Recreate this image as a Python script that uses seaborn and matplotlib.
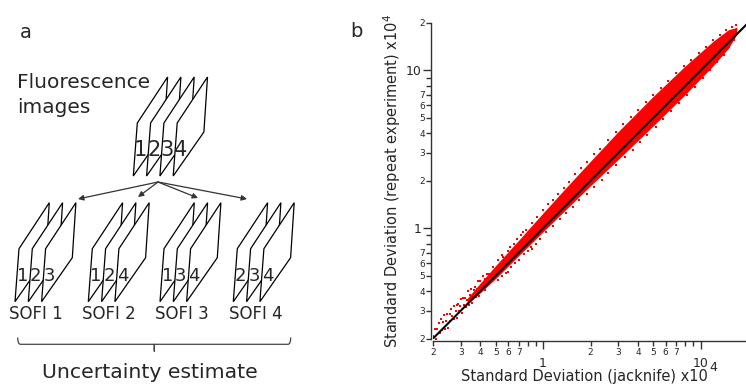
import matplotlib
matplotlib.use('Agg')
import matplotlib.pyplot as plt
import seaborn as sns
from matplotlib.patches import Polygon, PathPatch
from matplotlib.path import Path
from matplotlib.ticker import FixedLocator, FixedFormatter

# ---- panel b data (units of 10^4) ----
# dense core of the cloud
band_x = [0.33, 0.4, 0.5, 0.7, 1.0, 1.5, 2.0, 3.0, 5.0, 8.0, 12.0, 15.0, 17.0]
band_hi = [0.36, 0.45, 0.58, 0.84, 1.25, 1.95, 2.66, 4.1, 6.85, 10.7, 15.3, 18.1, 18.8]
band_lo = [0.33, 0.39, 0.48, 0.67, 0.95, 1.41, 1.86, 2.73, 4.45, 7.04, 10.7, 13.8, 17.0]

# sparse points at the low end
low_x = [0.200, 0.205, 0.21, 0.212, 0.218, 0.22, 0.225, 0.228, 0.232, 0.236,
         0.24, 0.243, 0.247, 0.25, 0.255, 0.258, 0.262, 0.265, 0.27, 0.273,
         0.278, 0.282, 0.285, 0.29, 0.294, 0.298, 0.302, 0.306, 0.31, 0.315,
         0.32, 0.325, 0.33, 0.335, 0.34, 0.345, 0.35, 0.356, 0.362, 0.368,
         0.375, 0.38, 0.386, 0.392, 0.4, 0.405, 0.41, 0.418, 0.425, 0.43,
         0.44, 0.448, 0.455]
low_y = [0.206, 0.230, 0.200, 0.229, 0.251, 0.216, 0.266, 0.228, 0.255, 0.283,
         0.230, 0.258, 0.287, 0.233, 0.286, 0.258, 0.307, 0.276, 0.321, 0.265,
         0.297, 0.327, 0.268, 0.331, 0.300, 0.322, 0.356, 0.291, 0.363, 0.324,
         0.362, 0.315, 0.350, 0.399, 0.326, 0.380, 0.413, 0.335, 0.405, 0.427,
         0.368, 0.414, 0.463, 0.372, 0.460, 0.405, 0.439, 0.497, 0.408, 0.477,
         0.515, 0.435, 0.514]

# ragged points along the upper and lower edge of the cloud
edge_x = [0.48, 0.52, 0.55, 0.56, 0.6, 0.62, 0.65, 0.68, 0.72, 0.75, 0.78, 0.85,
          0.92, 1.0, 1.08, 1.15, 1.25, 1.35, 1.45, 1.6, 1.75, 1.9, 2.1, 2.3,
          2.6, 2.9, 3.2, 3.6, 4.0, 4.5, 5.0, 5.6, 6.2, 7.0, 7.8, 8.7, 9.7, 10.8,
          12.0, 13.2, 14.5, 15.8, 16.8,
          0.52, 0.55, 0.58, 0.6, 0.63, 0.66, 0.7, 0.76, 0.8, 0.84, 0.85, 0.9,
          0.95, 1.05, 1.15, 1.28, 1.4, 1.55, 1.7, 1.9, 2.1, 2.35, 2.6, 2.9, 3.3,
          3.7, 4.1, 4.6, 5.2, 5.8, 6.5, 7.3, 8.2, 9.2, 10.3, 11.5, 12.8, 14.0,
          15.2, 16.3]
edge_y = [0.57, 0.63, 0.68, 0.66, 0.72, 0.76, 0.8, 0.86, 0.9, 0.95, 0.98, 1.08,
          1.17, 1.3, 1.42, 1.5, 1.66, 1.8, 1.95, 2.2, 2.4, 2.62, 2.95, 3.2,
          3.65, 4.1, 4.55, 5.1, 5.6, 6.3, 7.0, 7.8, 8.6, 9.6, 10.6, 11.7, 12.9, 14.1,
          15.5, 16.8, 18.0, 19.0, 19.3,
          0.47, 0.50, 0.52, 0.53, 0.57, 0.60, 0.63, 0.69, 0.72, 0.76, 0.74, 0.80,
          0.86, 0.94, 1.03, 1.14, 1.25, 1.37, 1.5, 1.66, 1.83, 2.03, 2.25, 2.5, 2.82,
          3.15, 3.5, 3.9, 4.4, 4.9, 5.5, 6.2, 7.0, 7.9, 8.9, 10.0, 11.3, 12.6,
          14.0, 15.5]

line_xy = [0.2, 20]

y_minor = [0.2, 0.3, 0.4, 0.5, 0.6, 0.7, 0.8, 0.9, 2, 3, 4, 5, 6, 7, 8, 9, 20]
y_minor_lab = ['2', '3', '4', '5', '6', '7', '', '', '2', '3', '4', '5', '6', '7', '', '', '2']
x_minor = [0.2, 0.3, 0.4, 0.5, 0.6, 0.7, 0.8, 0.9, 2, 3, 4, 5, 6, 7, 8, 9]
x_minor_lab = ['2', '3', '4', '5', '6', '7', '', '', '2', '3', '4', '5', '6', '7', '', '']
majors = [1, 10]
major_lab = ['1', '10']

# ---- panel a diagram ----
stacks = [(133.3, 176, ['1', '2', '3', '4'], 15),
          (15, 301.7, ['1', '2', '3'], 13),
          (88.3, 301.7, ['1', '2', '4'], 13),
          (160, 301.7, ['1', '3', '4'], 13),
          (233.3, 301.7, ['2', '3', '4'], 13)]
sofi_labels = ['SOFI 1', 'SOFI 2', 'SOFI 3', 'SOFI 4']
sofi_x = [35.8, 109, 182, 255.5]
arrow_ends = [(78, 199), (138, 197), (198, 198), (247, 199)]

sns.set_style('ticks')
plt.rcParams['font.family'] = ['DejaVu Sans']

fig = plt.figure(figsize=(7.46, 3.85), dpi=100)

ax0 = fig.add_axes([0, 0, 1, 1])
ax0.set_xlim(0, 746)
ax0.set_ylim(385, 0)
ax0.axis('off')

sheet = [(0, 0), (4, -53), (34.3, -99), (30.7, -44)]
for bx, by, labs, fs in stacks:
    for i in range(len(labs)):
        ox = bx + 13.3 * i
        pts = [(ox + dx, by + dy) for dx, dy in sheet]
        ax0.add_patch(Polygon(pts, closed=True, facecolor='white',
                              edgecolor='black', lw=0.9))
    for i, lab in enumerate(labs):
        ax0.text(bx + 7.5 + 13.3 * i, by - 26, lab, fontsize=fs,
                 ha='center', va='center')

for lab, sx in zip(sofi_labels, sofi_x):
    ax0.text(sx, 319.3, lab, fontsize=12, ha='center', va='baseline')

for ex, ey in arrow_ends:
    ax0.annotate('', xy=(ex, ey), xytext=(158, 182),
                 arrowprops=dict(arrowstyle='-|>', color='#333333', lw=0.9,
                                 mutation_scale=8, shrinkA=0, shrinkB=0))

brace = Path([(17.7, 337.5), (17.7, 344.3), (20.5, 344.3), (152, 344.3),
              (154.3, 344.3), (154.3, 351.5), (154.3, 344.3), (156.5, 344.3),
              (288, 344.3), (290.7, 344.3), (290.7, 337.5)],
             [Path.MOVETO, Path.CURVE3, Path.CURVE3, Path.LINETO,
              Path.LINETO, Path.LINETO, Path.LINETO, Path.LINETO,
              Path.LINETO, Path.CURVE3, Path.CURVE3])
ax0.add_patch(PathPatch(brace, facecolor='none', edgecolor='#444444', lw=0.9))

ax0.text(20, 38.3, 'a', fontsize=14, va='baseline')
ax0.text(350, 37.3, 'b', fontsize=14, va='baseline')
ax0.text(17, 88.3, 'Fluorescence', fontsize=14.5, va='baseline')
ax0.text(17, 113, 'images', fontsize=14.5, va='baseline')
ax0.text(150.3, 378.5, 'Uncertainty estimate', fontsize=14.7, ha='center', va='baseline')

# x axis title of panel b, with its exponent set as a separate text
ax0.text(584.5, 381.3, 'Standard Deviation (jacknife) x10', fontsize=10.5,
         ha='center', va='baseline')
ax0.text(709, 371, '4', fontsize=9, ha='left', va='baseline')

# ---- panel b scatter ----
ax = fig.add_axes([433 / 746, 46.5 / 385, 315 / 746, 315.5 / 385])
ax.set_xscale('log')
ax.set_yscale('log')
ax.fill_between(band_x, band_lo, band_hi, color='red', lw=0)
sns.scatterplot(x=low_x + edge_x, y=low_y + edge_y, ax=ax, marker='s', s=3,
                color='red', linewidth=0)
sns.lineplot(x=line_xy, y=line_xy, ax=ax, color='black', lw=1.5)
ax.set_xlim(0.2, 20)
ax.set_ylim(0.2, 20)

for s in ['top', 'right']:
    ax.spines[s].set_visible(False)
for s in ['left', 'bottom']:
    ax.spines[s].set_color('#333333')
    ax.spines[s].set_linewidth(1.0)
    ax.spines[s].set_position(('outward', 1.5))

ax.xaxis.set_major_locator(FixedLocator(majors))
ax.xaxis.set_major_formatter(FixedFormatter(major_lab))
ax.xaxis.set_minor_locator(FixedLocator(x_minor))
ax.xaxis.set_minor_formatter(FixedFormatter(x_minor_lab))
ax.yaxis.set_major_locator(FixedLocator(majors))
ax.yaxis.set_major_formatter(FixedFormatter(major_lab))
ax.yaxis.set_minor_locator(FixedLocator(y_minor))
ax.yaxis.set_minor_formatter(FixedFormatter(y_minor_lab))

ax.tick_params(which='major', length=6, width=1, color='#333333', labelsize=9)
ax.tick_params(which='minor', length=3.3, width=1, color='#333333', labelsize=6.5)
ax.tick_params(axis='x', which='major', pad=5.5)
ax.tick_params(axis='x', which='minor', pad=2)
ax.tick_params(axis='y', which='major', pad=1)
ax.tick_params(axis='y', which='minor', pad=1)

ax.set_xlabel('')
ax.set_ylabel('Standard Deviation (repeat experiment) x10$^4$', fontsize=10.5)
ax.yaxis.set_label_coords(-0.095, 0.5)

fig.savefig('out.png', dpi=100)
